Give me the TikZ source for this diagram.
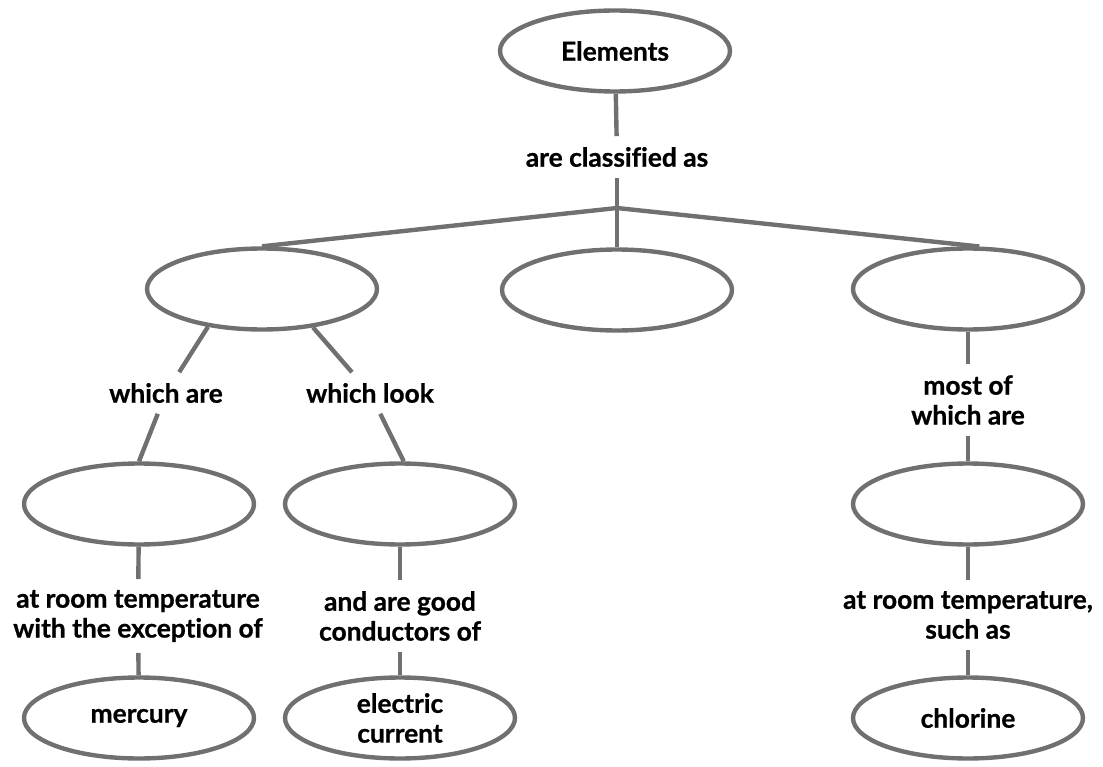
\documentclass[tikz,border=0pt]{standalone}
\usepackage{fontspec}
\setmainfont{Lato}[Ligatures=NoCommon, BoldFeatures={FakeBold=0.8}]
\usepackage{tikz}
\usetikzlibrary{shapes}

\definecolor{mapgray}{RGB}{112,112,112}

\begin{document}
\begin{tikzpicture}[x=0.02cm, y=-0.02cm]
	\tikzstyle{every text node part}=[font=\bfseries\fontsize{15}{17}\selectfont]
	\tikzset{concept/.style = {ellipse, draw = mapgray, line width = 2.5pt, minimum width = 4.6cm, minimum height = 1.62cm, align = center, inner sep = 0pt}}
	\tikzset{linkword/.style = {align = center, inner sep = 6pt}}
	\tikzset{edge/.style = {draw = mapgray, line width = 2.5pt}}

\useasboundingbox (0,0) rectangle (1103,767);

%% Top concept
\draw (615,51) node[concept, name = elements]{Elements};
\draw (617,157) node[linkword, name = classified]{are classified as};
\coordinate (fork) at (617,208);

%% Second row
\draw (262,289) node[concept, name = metals]{};
\draw (617,290) node[concept, name = metalloids]{};
\draw (968,289) node[concept, name = nonmetals]{};

%% Linking words under the second row
\draw (166,393) node[linkword, name = whichare]{which are};
\draw (370,393) node[linkword, name = whichlook]{which look};
\draw (968,400) node[linkword, name = mostof]{most of\\which are};

%% Third row
\draw (139,504) node[concept, name = solids]{};
\draw (400,504) node[concept, name = shiny]{};
\draw (968,504) node[concept, name = gases]{};

%% Linking words under the third row
\draw (138,616) node[linkword, name = exception]{at room temperature\\with the exception of};
\draw (400,616) node[linkword, name = conductors]{and are good\\conductors of};
\draw (968,615) node[linkword, name = suchas]{at room temperature,\\such as};

%% Bottom row
\draw (139,718) node[concept, name = mercury]{mercury};
\draw (400,718) node[concept, name = current]{electric\\current};
\draw (968,718) node[concept, name = chlorine]{chlorine};

%% Edges
\draw[edge] (elements) -- (classified);
\draw[edge] (classified) -- (fork);
\draw[edge] (fork) -- (metals.north);
\draw[edge] (fork) -- (metalloids.north);
\draw[edge] (fork) -- (nonmetals.75);

\draw[edge] (metals.215) -- (whichare);
\draw[edge] (whichare) -- (solids.north);
\draw[edge] (metals.323) -- (whichlook);
\draw[edge] (whichlook) -- (shiny.85);
\draw[edge] (nonmetals) -- (mostof);
\draw[edge] (mostof) -- (gases);

\draw[edge] (solids) -- (exception);
\draw[edge] (exception) -- (mercury);
\draw[edge] (shiny) -- (conductors);
\draw[edge] (conductors) -- (current);
\draw[edge] (gases) -- (suchas);
\draw[edge] (suchas) -- (chlorine);

\end{tikzpicture}
\end{document}
